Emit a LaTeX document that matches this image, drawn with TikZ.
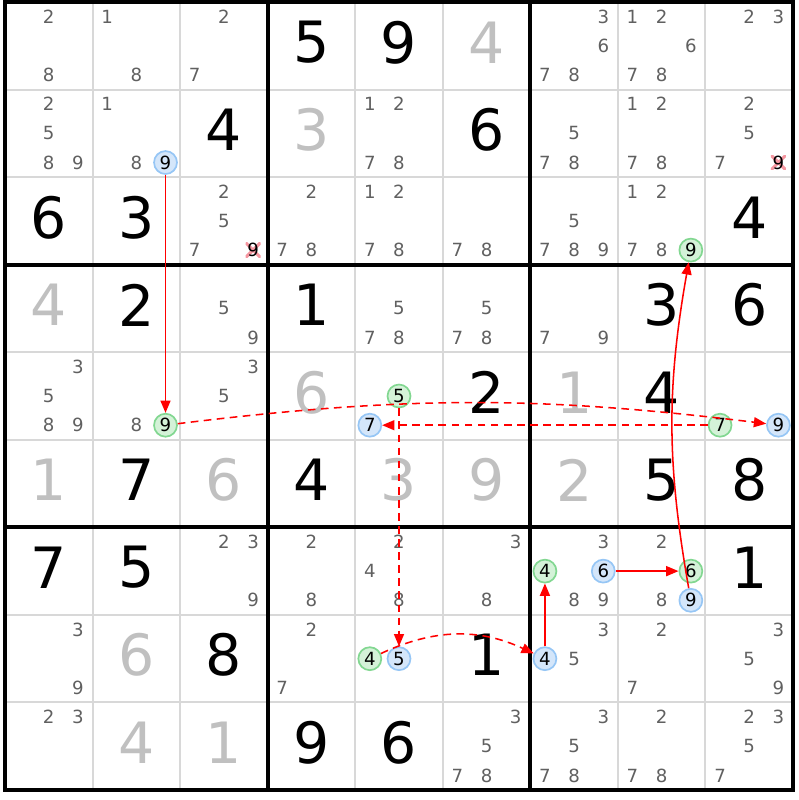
\documentclass[tikz,border=0pt]{standalone}
\usepackage{fontspec}
\setmainfont{DejaVu Sans}
\usetikzlibrary{arrows.meta}

\definecolor{candgrey}{RGB}{96,96,96}
\definecolor{solvedgrey}{RGB}{192,192,192}
\definecolor{gridgrey}{RGB}{216,216,216}
\definecolor{greenfill}{RGB}{212,242,216}
\definecolor{greenedge}{RGB}{130,215,145}
\definecolor{bluefill}{RGB}{212,230,250}
\definecolor{blueedge}{RGB}{150,198,245}
\definecolor{crossred}{RGB}{245,150,160}
\definecolor{linkred}{RGB}{255,0,0}

% candidate #4 of cell row #2, column #3
\newcommand{\cand}[4][cand]{%
  \pgfmathtruncatemacro{\candcol}{mod(#4-1,3)}%
  \pgfmathtruncatemacro{\candrow}{(#4-1)/3}%
  \node[#1] (r#2c#3n#4) at ({#3-1+(2*\candcol+1)/6},{#2-1+(2*\candrow+1)/6}) {#4};}
\newcommand{\cands}[3]{\foreach \d in {#3} {\cand{#1}{#2}{\d}}}
% big digit in a cell
\newcommand{\digit}[4][given]{\node[#1] (r#2c#3) at (#3-0.5,#2-0.54) {#4};}

\begin{document}
\begin{tikzpicture}[x=2cm,y=-2cm,
  cand/.style={text=candgrey, font=\fontsize{11.8}{12}\selectfont, inner sep=0pt},
  given/.style={text=black, font=\fontsize{37}{40}\selectfont, inner sep=0pt},
  solved/.style={given, text=solvedgrey},
  hlgreen/.style={cand, text=black, circle, fill=greenfill, draw=greenedge, line width=1.1pt, minimum size=0.525cm},
  hlblue/.style={hlgreen, fill=bluefill, draw=blueedge},
  struck/.style={cand, text=black, fill=white, minimum size=0.34cm,
    path picture={\draw[crossred, line width=2pt]
      (path picture bounding box.south west) -- (path picture bounding box.north east)
      (path picture bounding box.north west) -- (path picture bounding box.south east);}},
  cellline/.style={gridgrey, line width=1.3pt},
  boxline/.style={black, line width=2.6pt},
  link/.style={draw=linkred, line width=1pt, -{Triangle[length=8pt,width=6.5pt]}},
  dashlink/.style={link, dash pattern=on 5pt off 3.5pt}]

\useasboundingbox (-0.057,-0.023) rectangle (9.068,9.114);

% cell lines
\foreach \i in {1,2,4,5,7,8} {
  \draw[cellline] (\i,0) -- (\i,9);
  \draw[cellline] (0,\i) -- (9,\i);
}

% row 1
\cands{1}{1}{2,8}
\cands{1}{2}{1,8}
\cands{1}{3}{2,7}
\digit{1}{4}{5}
\digit{1}{5}{9}
\digit[solved]{1}{6}{4}
\cands{1}{7}{3,6,7,8}
\cands{1}{8}{1,2,6,7,8}
\cands{1}{9}{2,3}

% row 2
\cands{2}{1}{2,5,8,9}
\cands{2}{2}{1,8}
\cand[hlblue]{2}{2}{9}
\digit{2}{3}{4}
\digit[solved]{2}{4}{3}
\cands{2}{5}{1,2,7,8}
\digit{2}{6}{6}
\cands{2}{7}{5,7,8}
\cands{2}{8}{1,2,7,8}
\cands{2}{9}{2,5,7}
\cand[struck]{2}{9}{9}

% row 3
\digit{3}{1}{6}
\digit{3}{2}{3}
\cands{3}{3}{2,5,7}
\cand[struck]{3}{3}{9}
\cands{3}{4}{2,7,8}
\cands{3}{5}{1,2,7,8}
\cands{3}{6}{7,8}
\cands{3}{7}{5,7,8,9}
\cands{3}{8}{1,2,7,8}
\cand[hlgreen]{3}{8}{9}
\digit{3}{9}{4}

% row 4
\digit[solved]{4}{1}{4}
\digit{4}{2}{2}
\cands{4}{3}{5,9}
\digit{4}{4}{1}
\cands{4}{5}{5,7,8}
\cands{4}{6}{5,7,8}
\cands{4}{7}{7,9}
\digit{4}{8}{3}
\digit{4}{9}{6}

% row 5
\cands{5}{1}{3,5,8,9}
\cands{5}{2}{8}
\cand[hlgreen]{5}{2}{9}
\cands{5}{3}{3,5}
\digit[solved]{5}{4}{6}
\cand[hlgreen]{5}{5}{5}
\cand[hlblue]{5}{5}{7}
\digit{5}{6}{2}
\digit[solved]{5}{7}{1}
\digit{5}{8}{4}
\cand[hlgreen]{5}{9}{7}
\cand[hlblue]{5}{9}{9}

% row 6
\digit[solved]{6}{1}{1}
\digit{6}{2}{7}
\digit[solved]{6}{3}{6}
\digit{6}{4}{4}
\digit[solved]{6}{5}{3}
\digit[solved]{6}{6}{9}
\digit[solved]{6}{7}{2}
\digit{6}{8}{5}
\digit{6}{9}{8}

% row 7
\digit{7}{1}{7}
\digit{7}{2}{5}
\cands{7}{3}{2,3,9}
\cands{7}{4}{2,8}
\cands{7}{5}{2,4,8}
\cands{7}{6}{3,8}
\cands{7}{7}{3,8,9}
\cand[hlgreen]{7}{7}{4}
\cand[hlblue]{7}{7}{6}
\cands{7}{8}{2,8}
\cand[hlgreen]{7}{8}{6}
\cand[hlblue]{7}{8}{9}
\digit{7}{9}{1}

% row 8
\cands{8}{1}{3,9}
\digit[solved]{8}{2}{6}
\digit{8}{3}{8}
\cands{8}{4}{2,7}
\cand[hlgreen]{8}{5}{4}
\cand[hlblue]{8}{5}{5}
\digit{8}{6}{1}
\cands{8}{7}{3,5}
\cand[hlblue]{8}{7}{4}
\cands{8}{8}{2,7}
\cands{8}{9}{3,5,9}

% row 9
\cands{9}{1}{2,3}
\digit[solved]{9}{2}{4}
\digit[solved]{9}{3}{1}
\digit{9}{4}{9}
\digit{9}{5}{6}
\cands{9}{6}{3,5,7,8}
\cands{9}{7}{3,5,7,8}
\cands{9}{8}{2,7,8}
\cands{9}{9}{2,3,5,7}

% box lines
\foreach \i in {3,6} {
  \draw[boxline] (\i,0) -- (\i,9);
  \draw[boxline] (0,\i) -- (9,\i);
}
\draw[boxline] (0,0) rectangle (9,9);

% chain
\draw[link] (r2c2n9) -- (r5c2n9);
\draw[dashlink] (r5c2n9) to[bend left=7] (r5c9n9);
\draw[dashlink] (r5c9n7) -- (r5c5n7);
\draw[dashlink] (r5c5n5) -- (r8c5n5);
\draw[dashlink] (r8c5n4) to[bend left=25] (r8c7n4);
\draw[link] (r8c7n4) -- (r7c7n4);
\draw[link] (r7c7n6) -- (r7c8n6);
\draw[link] (r7c8n9) to[bend left=10] (r3c8n9);
\end{tikzpicture}
\end{document}
